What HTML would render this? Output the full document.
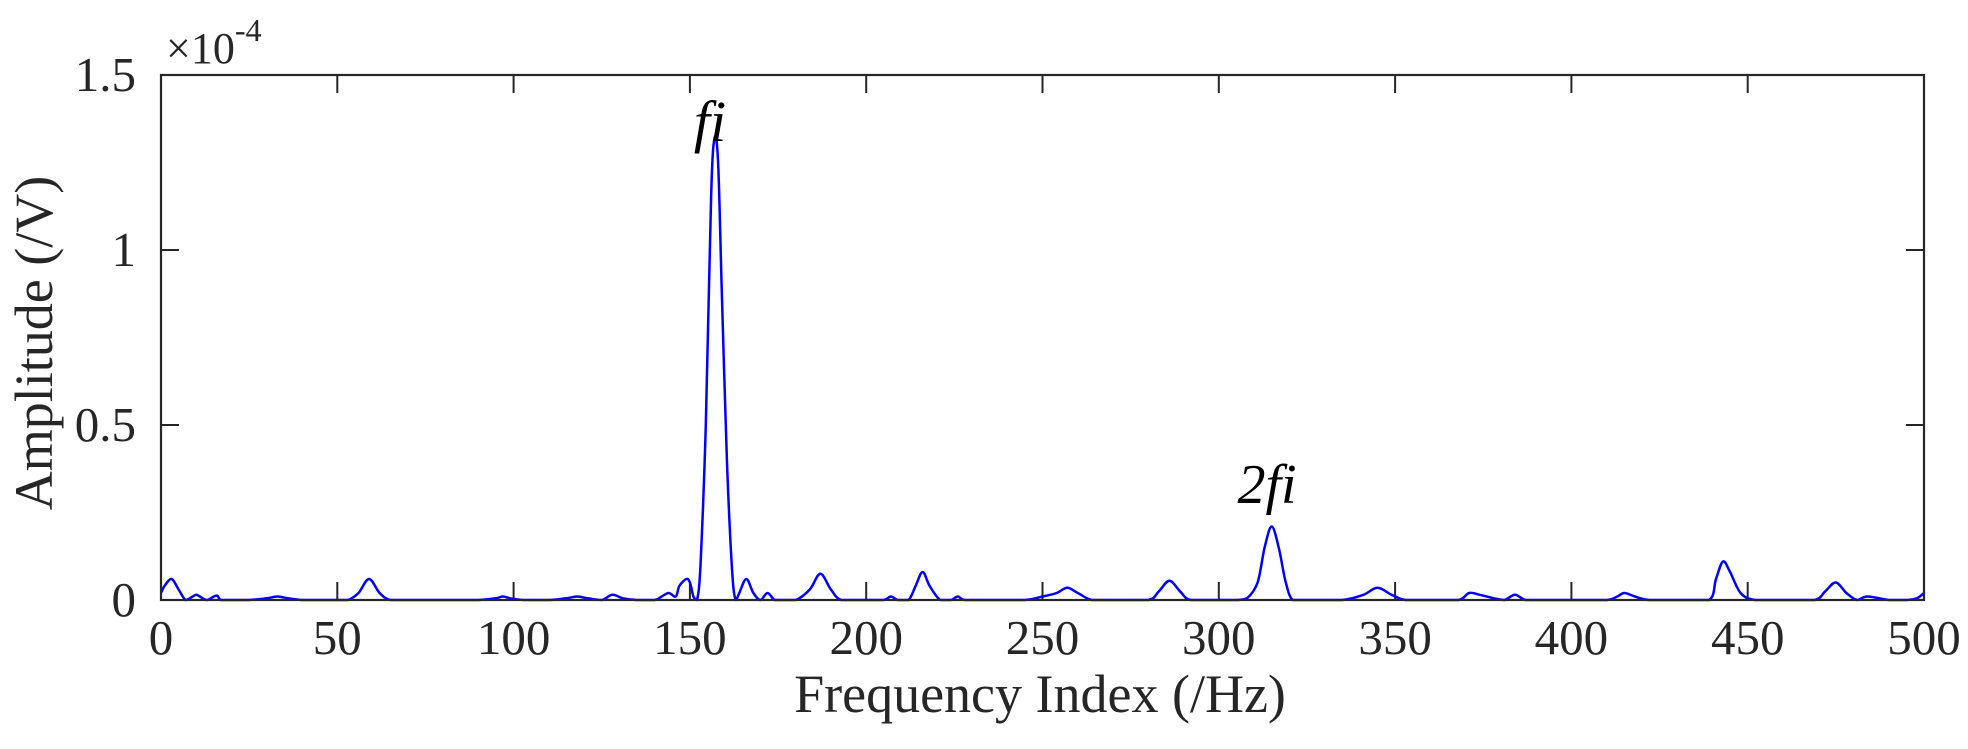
<!DOCTYPE html>
<html><head><meta charset="utf-8"><style>
html,body{margin:0;padding:0;background:#fff;}
svg{display:block;font-family:"Liberation Serif",serif;}
</style></head><body>
<svg id="chart" width="1968" height="749" viewBox="0 0 1968 749" xmlns="http://www.w3.org/2000/svg">
<rect x="0" y="0" width="1968" height="749" fill="#fff"/>
<g id="axes"></g>
<path id="line" fill="none" stroke="#0000ff" stroke-width="2.5" stroke-linejoin="round"/>
<rect x="161" y="75" width="1763" height="525" fill="none" stroke="#262626" stroke-width="2.2"/>
<text x="166" y="63" font-size="44" fill="#262626">×10<tspan font-size="32" dy="-22">-4</tspan></text>
<text x="710" y="141" font-size="58" font-style="italic" text-anchor="middle" fill="#000">fi</text>
<text x="1267" y="503" font-size="56" font-style="italic" text-anchor="middle" fill="#000">2fi</text>
<text x="1040" y="712" font-size="54" text-anchor="middle" fill="#262626">Frequency Index (/Hz)</text>
<text transform="translate(52,343) rotate(-90)" font-size="54" text-anchor="middle" fill="#262626">Amplitude (/V)</text>
</svg>
<script>
const xTicks = [0,50,100,150,200,250,300,350,400,450,500];
const yTicks = [0,0.5,1,1.5];
const yTickLabels = ["0","0.5","1","1.5"];
const freqs = [0,1,3,5,7,9,10,11,13,15,16,17,20,25,30,33,36,40,45,50,53,56,59,62,65,70,80,90,95,97,99,103,110,115,118,121,125,128,131,135,140,142,144,146,147,149,150,151,152,153,154.5,156,157,158,159,160.5,162,163,164,166,168,170,172,174,176,180,184,187,190,193,200,205,207,209,212,214,216,218,221,224,226,228,235,245,250,254,257,260,264,270,280,283,286,289,292,300,305,308,311,313,315,317,319,321,325,335,341,345,349,353,360,368,371,374,378,381,384,387,392,400,410,413,415,418,422,430,439,441,443,445,448,452,460,469,472,475,478,481,484,490,495,498,500];
const amps = [0.02,0.04,0.06,0.03,0,0.01,0.015,0.01,0,0.01,0.012,0,0,0,0.005,0.01,0.005,0,0,0,0,0.02,0.06,0.02,0,0,0,0,0.005,0.01,0.005,0,0,0.005,0.01,0.005,0,0.015,0.005,0,0,0.01,0.02,0.01,0.04,0.06,0.05,0.01,0,0.1,0.5,1.15,1.32,1.25,0.9,0.4,0.08,0,0.02,0.06,0.02,0,0.02,0,0,0,0.03,0.075,0.03,0,0,0,0.01,0,0,0.04,0.08,0.04,0,0,0.01,0,0,0,0.01,0.02,0.035,0.02,0,0,0,0.025,0.055,0.025,0,0,0,0.005,0.05,0.15,0.21,0.15,0.05,0,0,0,0.015,0.035,0.015,0,0,0,0.02,0.015,0.005,0,0.015,0,0,0,0,0.01,0.02,0.01,0,0,0,0.06,0.11,0.08,0.02,0,0,0,0.025,0.05,0.02,0,0.01,0,0,0.005,0.02];

const L=161,R=1924,T=75,B=600;
const xs=v=>L+(v-0)/(500-0)*(R-L);
const ys=v=>B-(v/1.5)*(B-T);
const NS="http://www.w3.org/2000/svg";
const g=document.getElementById('axes');
xTicks.forEach(v=>{
  const x=xs(v);
  [[B,B-18],[T,T+18]].forEach(([a,b])=>{
    const l=document.createElementNS(NS,'line');
    
    
    l.setAttribute('x1',x);l.setAttribute('x2',x);l.setAttribute('y1',a);l.setAttribute('y2',b);
    l.setAttribute('stroke','#262626');l.setAttribute('stroke-width','2');g.appendChild(l);
  });
  const t=document.createElementNS(NS,'text');
  
  
  t.setAttribute('x',x);t.setAttribute('y',654);t.setAttribute('font-size','49');
  t.setAttribute('text-anchor','middle');t.setAttribute('fill','#262626');t.textContent=String(v);g.appendChild(t);
});
yTicks.forEach((v,i)=>{
  const y=ys(v);
  [[L,L+18],[R,R-18]].forEach(([a,b])=>{
    const l=document.createElementNS(NS,'line');
    
    
    l.setAttribute('x1',a);l.setAttribute('x2',b);l.setAttribute('y1',y);l.setAttribute('y2',y);
    l.setAttribute('stroke','#262626');l.setAttribute('stroke-width','2');g.appendChild(l);
  });
  const t=document.createElementNS(NS,'text');
  
  
  t.setAttribute('x',136);t.setAttribute('y',y+16);t.setAttribute('font-size','49');
  t.setAttribute('text-anchor','end');t.setAttribute('fill','#262626');t.textContent=yTickLabels[i];g.appendChild(t);
});
const P=freqs.map((f,i)=>[xs(f),ys(amps[i])]);
let d='M'+P[0][0].toFixed(1)+','+P[0][1].toFixed(1);
for(let i=0;i<P.length-1;i++){
  const p0=P[Math.max(0,i-1)],p1=P[i],p2=P[i+1],p3=P[Math.min(P.length-1,i+2)];
  let c1x=p1[0]+(p2[0]-p0[0])/6,c1y=p1[1]+(p2[1]-p0[1])/6;
  let c2x=p2[0]-(p3[0]-p1[0])/6,c2y=p2[1]-(p3[1]-p1[1])/6;
  c1y=Math.min(c1y,B);c2y=Math.min(c2y,B);
  d+=' C'+c1x.toFixed(1)+','+c1y.toFixed(1)+' '+c2x.toFixed(1)+','+c2y.toFixed(1)+' '+p2[0].toFixed(1)+','+p2[1].toFixed(1);
}
document.getElementById('line').setAttribute('d',d);
</script>
</body></html>
